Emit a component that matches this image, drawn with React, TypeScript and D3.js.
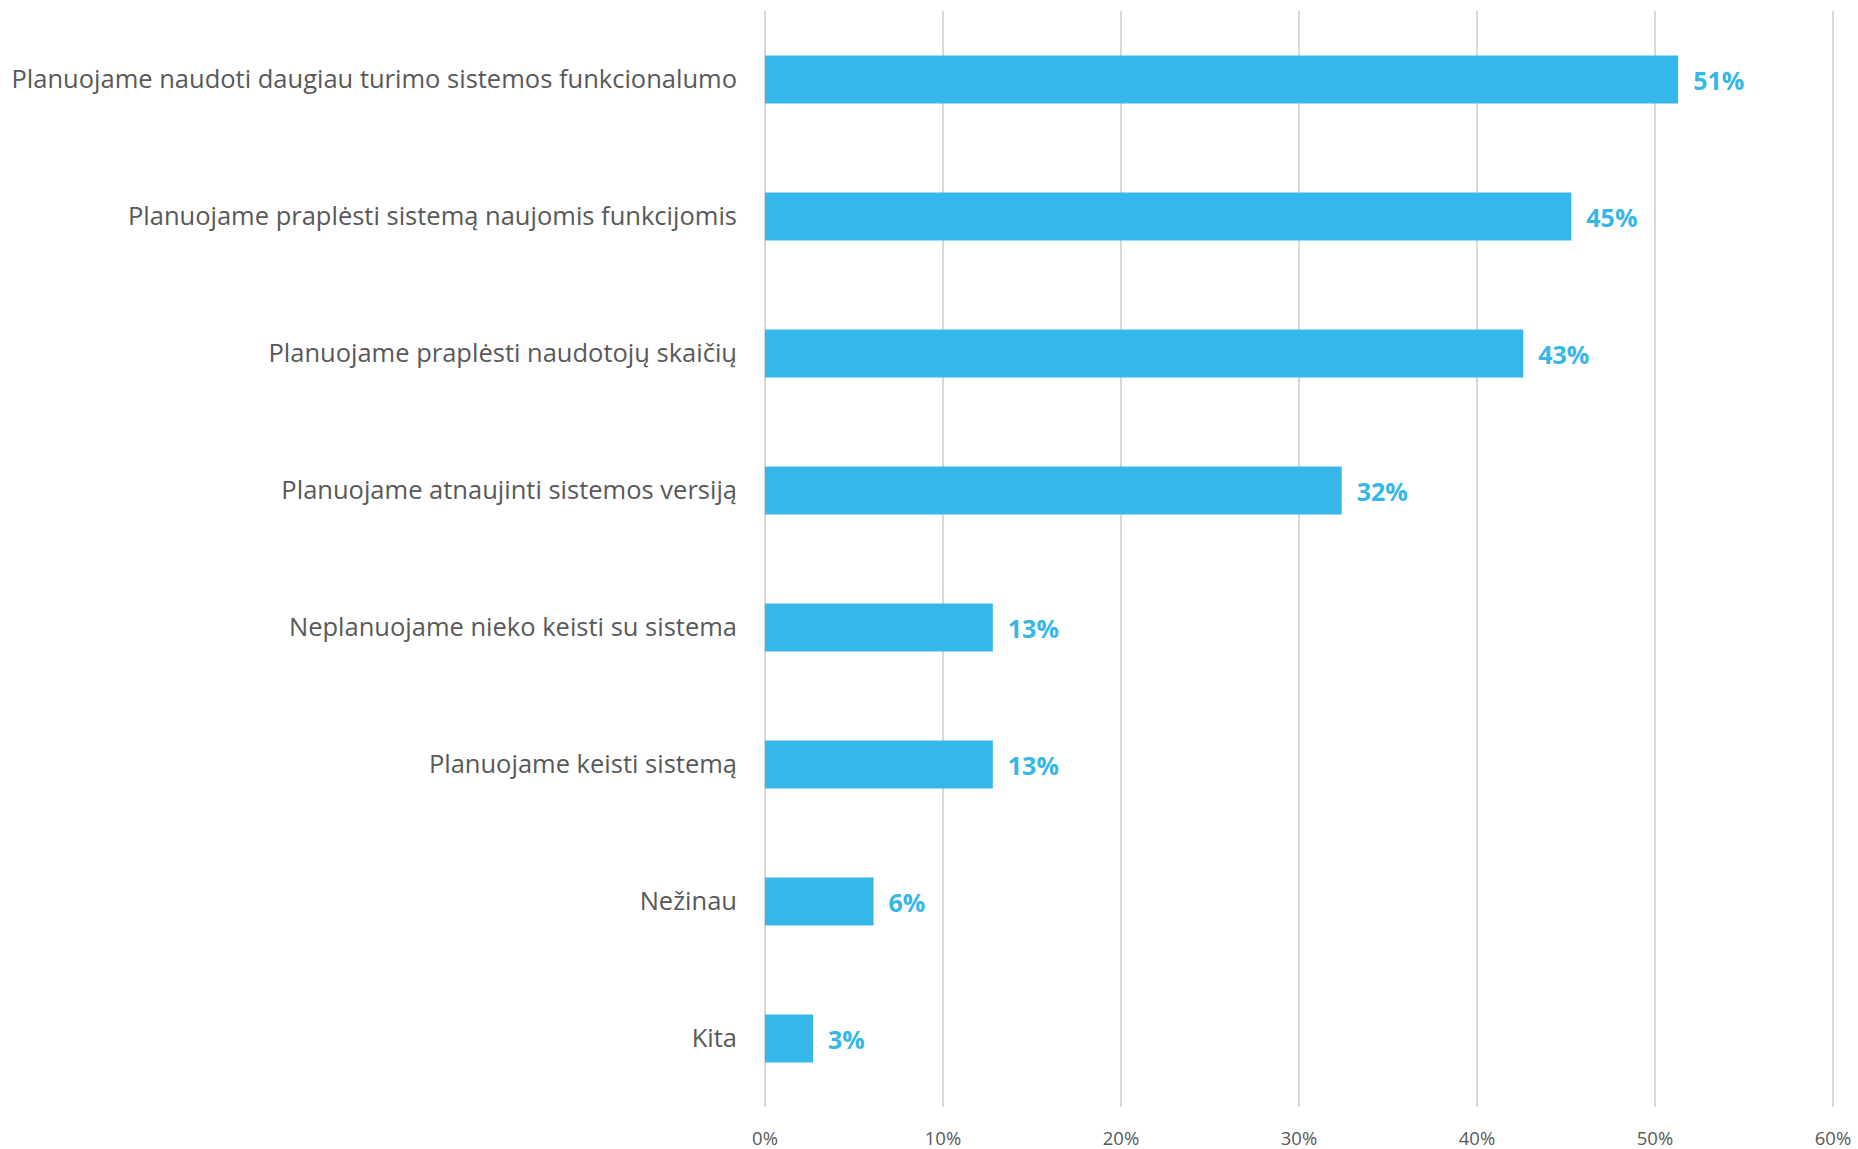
import * as d3 from "d3";
import React from "react";

const categories = [
  "Planuojame naudoti daugiau turimo sistemos funkcionalumo",
  "Planuojame praplėsti sistemą naujomis funkcijomis",
  "Planuojame praplėsti naudotojų skaičių",
  "Planuojame atnaujinti sistemos versiją",
  "Neplanuojame nieko keisti su sistema",
  "Planuojame keisti sistemą",
  "Nežinau",
  "Kita",
];
const values = [0.513, 0.453, 0.426, 0.324, 0.128, 0.128, 0.061, 0.027];
const ticks = [0, 0.1, 0.2, 0.3, 0.4, 0.5, 0.6];

const width = 1858;
const height = 1149;
const FONT = "'Open Sans', Lato, sans-serif";

export default function App() {
  const x = d3.scaleLinear().domain([0, 0.6]).range([765, 1833]);
  const y = d3
    .scaleBand()
    .domain(categories)
    .range([11, 1107])
    .paddingInner(0.65)
    .paddingOuter(0.325);
  const pct = d3.format(".0%");

  return (
    <svg
      width={width}
      height={height}
      style={{ position: "absolute", left: 0, top: 0, background: "#fff" }}
      fontFamily={FONT}
    >
      {/* grid */}
      {ticks.map((t) => (
        <line
          key={t}
          x1={x(t)}
          x2={x(t)}
          y1={11}
          y2={1107}
          stroke="#d9d9d9"
          strokeWidth={2}
        />
      ))}
      {ticks.map((t) => (
        <text
          key={"t" + t}
          x={x(t)}
          y={1145}
          textAnchor="middle"
          fontSize={18.5}
          fill="#595959"
        >
          {pct(t)}
        </text>
      ))}

      {/* bars */}
      {categories.map((c, i) => (
        <g key={c}>
          <rect
            x={x(0)}
            y={y(c)!}
            width={x(values[i]) - x(0)}
            height={y.bandwidth()}
            fill="#35b7ea"
          />
          <text
            x={737}
            y={y(c)! + y.bandwidth() / 2}
            dy="0.35em"
            textAnchor="end"
            fontSize={25.5}
            fill="#595959"
          >
            {c}
          </text>
          <text
            x={x(values[i]) + 15}
            y={y(c)! + y.bandwidth() / 2 + 2}
            dy="0.35em"
            fontSize={25}
            fontWeight="bold"
            fill="#35b7ea"
          >
            {pct(values[i])}
          </text>
        </g>
      ))}
    </svg>
  );
}
